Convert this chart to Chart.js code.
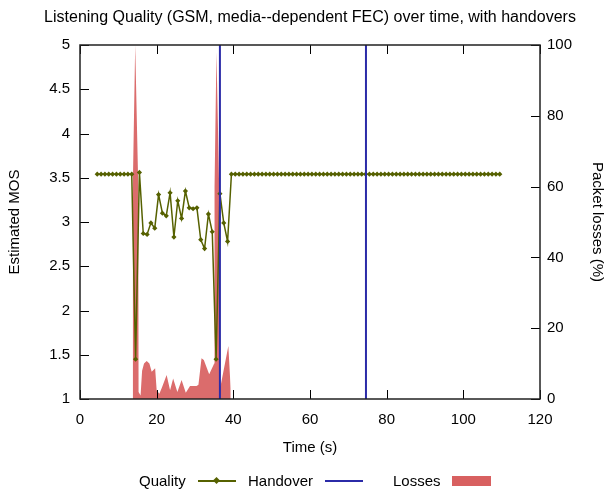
<!DOCTYPE html>
<html>
<head>
<meta charset="utf-8">
<script src="https://cdn.jsdelivr.net/npm/chart.js@4.4.1/dist/chart.umd.min.js"></script>
<style>
  body { margin: 0; background: #fff; }
  #wrap { position: relative; width: 606px; height: 489px; font-family: "Liberation Sans", Arial, sans-serif; }
  #legend { position: absolute; left: 0; top: 472px; width: 606px; height: 18px; font-size: 15px; color: #000; }
  #legend .t { position: absolute; top: 0; line-height: 18px; white-space: nowrap; }
  #legend .s { position: absolute; }
</style>
</head>
<body>
<div id="wrap">
  <canvas id="chart" width="606" height="489"></canvas>
  <div id="legend">
    <span class="t" style="left:139px">Quality</span>
    <span class="s" style="left:198px;top:8px;width:38px;height:2px;background:#566100"></span>
    <span class="s" style="left:214px;top:6px;width:5px;height:5px;background:#566100;transform:rotate(45deg)"></span>
    <span class="t" style="left:248px">Handover</span>
    <span class="s" style="left:325px;top:8px;width:38px;height:2px;background:#2b2ba8"></span>
    <span class="t" style="left:393px">Losses</span>
    <span class="s" style="left:452px;top:4px;width:39px;height:10px;background:#d86060"></span>
  </div>
</div>
<script>
// データ ---------------
const qualityTime = [
  4.5, 5.5, 6.5, 7.5, 8.5, 9.5, 10.5, 11.5, 12.5, 13.5,
  14.5, 15.5, 16.5, 17.5, 18.5, 19.5, 20.5, 21.5, 22.5, 23.5,
  24.5, 25.5, 26.5, 27.5, 28.5, 29.5, 30.5, 31.5, 32.5, 33.5,
  34.5, 35.5, 36.5, 37.5, 38.5, 39.5, 40.5, 41.5, 42.5, 43.5,
  44.5, 45.5, 46.5, 47.5, 48.5, 49.5, 50.5, 51.5, 52.5, 53.5,
  54.5, 55.5, 56.5, 57.5, 58.5, 59.5, 60.5, 61.5, 62.5, 63.5,
  64.5, 65.5, 66.5, 67.5, 68.5, 69.5, 70.5, 71.5, 72.5, 73.5,
  74.5, 75.5, 76.5, 77.5, 78.5, 79.5, 80.5, 81.5, 82.5, 83.5,
  84.5, 85.5, 86.5, 87.5, 88.5, 89.5, 90.5, 91.5, 92.5, 93.5,
  94.5, 95.5, 96.5, 97.5, 98.5, 99.5, 100.5, 101.5, 102.5, 103.5,
  104.5, 105.5, 106.5, 107.5, 108.5, 109.5
];
const qualityMOS = [
  3.54, 3.54, 3.54, 3.54, 3.54, 3.54, 3.54, 3.54, 3.54, 3.54,
  1.45, 3.56, 2.87, 2.86, 2.99, 2.93, 3.31, 3.10, 3.07, 3.33,
  2.83, 3.24, 3.04, 3.35, 3.16, 3.15, 3.16, 2.80, 2.70, 3.09,
  2.89, 1.45, 3.32, 2.99, 2.78, 3.54, 3.54, 3.54, 3.54, 3.54,
  3.54, 3.54, 3.54, 3.54, 3.54, 3.54, 3.54, 3.54, 3.54, 3.54,
  3.54, 3.54, 3.54, 3.54, 3.54, 3.54, 3.54, 3.54, 3.54, 3.54,
  3.54, 3.54, 3.54, 3.54, 3.54, 3.54, 3.54, 3.54, 3.54, 3.54,
  3.54, 3.54, 3.54, 3.54, 3.54, 3.54, 3.54, 3.54, 3.54, 3.54,
  3.54, 3.54, 3.54, 3.54, 3.54, 3.54, 3.54, 3.54, 3.54, 3.54,
  3.54, 3.54, 3.54, 3.54, 3.54, 3.54, 3.54, 3.54, 3.54, 3.54,
  3.54, 3.54, 3.54, 3.54, 3.54, 3.54
];
const handoverTime = [36.5, 74.6];
const lossTime = [
  13.72, 13.78, 14.4, 14.6, 15.2, 15.28, 15.8, 16.2, 16.7, 17.4,
  18.1, 18.7, 19.6, 20.0, 20.7, 21.4, 22.6, 23.5, 24.3, 25.4,
  26.5, 27.6, 28.7, 30.4, 30.9, 31.7, 32.3, 33.7, 34.8, 35.0,
  35.1, 35.6, 36.3, 36.4, 36.8, 38.7, 39.3, 39.32
];
const lossPct = [
  0, 60, 100, 100, 60, 2, 1, 8, 10, 10.7,
  10, 7.7, 8.7, 2.5, 1.5, 3.3, 6.8, 2.5, 5.8, 2,
  5.4, 1.8, 3.7, 3.7, 4, 11.5, 11, 7, 9.5, 10,
  60, 98, 60, 3, 4.4, 15, 3, 0
];
const timeTicks = [0, 20, 40, 60, 80, 100, 120];
const mosTicks = [1, 1.5, 2, 2.5, 3, 3.5, 4, 4.5, 5];
const lossTicks = [0, 20, 40, 60, 80, 100];

const FONT = "'Liberation Sans', Arial, sans-serif";
const mosRange = [mosTicks[0], mosTicks[mosTicks.length - 1]];

// 内向きの目盛りと枠線
const framePlugin = {
  id: 'frame',
  afterDatasetsDraw(chart) {
    const { ctx, chartArea: a, scales } = chart;
    const len = 9;
    ctx.save();
    ctx.strokeStyle = '#000';
    ctx.lineWidth = 1;
    ctx.beginPath();
    scales.x.ticks.forEach(t => {
      const px = Math.round(scales.x.getPixelForValue(t.value)) + 0.5;
      ctx.moveTo(px, a.bottom); ctx.lineTo(px, a.bottom - len);
      ctx.moveTo(px, a.top); ctx.lineTo(px, a.top + len);
    });
    scales.y.ticks.forEach(t => {
      const py = Math.round(scales.y.getPixelForValue(t.value)) + 0.5;
      ctx.moveTo(a.left, py); ctx.lineTo(a.left + len, py);
    });
    scales.y2.ticks.forEach(t => {
      const py = Math.round(scales.y2.getPixelForValue(t.value)) + 0.5;
      ctx.moveTo(a.right, py); ctx.lineTo(a.right - len, py);
    });
    ctx.stroke();
    ctx.lineWidth = 1.5;
    ctx.strokeStyle = '#222';
    ctx.strokeRect(a.left, a.top, a.right - a.left, a.bottom - a.top);
    ctx.restore();
  }
};

const handoverSets = handoverTime.map(t => ({
  label: 'Handover',
  data: [{ x: t, y: mosRange[0] }, { x: t, y: mosRange[1] }],
  borderColor: '#2b2ba8',
  borderWidth: 2,
  pointRadius: 0,
  yAxisID: 'y'
}));

const plainNum = v => String(v);

new Chart(document.getElementById('chart'), {
  type: 'line',
  data: {
    datasets: [
      ...handoverSets,
      {
        label: 'Quality',
        data: qualityTime.map((t, i) => ({ x: t, y: qualityMOS[i] })),
        borderColor: '#566100',
        backgroundColor: '#566100',
        borderWidth: 1.5,
        pointStyle: 'rectRot',
        pointRadius: 2.6,
        pointBorderWidth: 0,
        yAxisID: 'y'
      },
      {
        label: 'Losses',
        data: lossTime.map((t, i) => ({ x: t, y: lossPct[i] })),
        borderColor: '#db6c6c',
        backgroundColor: '#db6c6c',
        borderWidth: 0,
        pointRadius: 0,
        fill: 'origin',
        yAxisID: 'y2'
      }
    ]
  },
  options: {
    responsive: false,
    animation: false,
    devicePixelRatio: 1,
    // 左に寄せてタイトルをプロット領域の中央に
    layout: { padding: { left: 14, right: 0, top: 0, bottom: 0 } },
    elements: { line: { tension: 0 } },
    plugins: {
      legend: { display: false },
      tooltip: { enabled: false },
      title: {
        display: true,
        text: 'Listening Quality (GSM, media--dependent FEC) over time, with handovers',
        color: '#000',
        font: { family: FONT, size: 16, weight: 'normal', lineHeight: 1.2 },
        padding: { top: 7.5, bottom: 18.3 }
      }
    },
    scales: {
      x: {
        type: 'linear',
        min: timeTicks[0],
        max: timeTicks[timeTicks.length - 1],
        afterBuildTicks: s => { s.ticks = timeTicks.map(v => ({ value: v })); },
        afterFit: s => { s.height = 90; },
        grid: { display: false, drawTicks: false },
        border: { display: false },
        ticks: { color: '#000', padding: 12, maxRotation: 0, font: { family: FONT, size: 15 }, callback: plainNum },
        title: {
          display: true, text: 'Time (s)', color: '#000',
          font: { family: FONT, size: 15, lineHeight: 1.2 },
          padding: { top: 0, bottom: 32 }
        }
      },
      y: {
        position: 'left',
        min: mosRange[0],
        max: mosRange[1],
        afterBuildTicks: s => { s.ticks = mosTicks.map(v => ({ value: v })); },
        afterFit: s => { s.width = 66; },
        grid: { display: false, drawTicks: false },
        border: { display: false },
        ticks: { color: '#000', padding: 10, font: { family: FONT, size: 15 }, callback: plainNum },
        title: {
          display: true, text: 'Estimated MOS', color: '#000',
          font: { family: FONT, size: 15, lineHeight: 1.2 },
          padding: { top: -8, bottom: 0 }
        }
      },
      y2: {
        position: 'right',
        min: lossTicks[0],
        max: lossTicks[lossTicks.length - 1],
        afterBuildTicks: s => { s.ticks = lossTicks.map(v => ({ value: v })); },
        afterFit: s => { s.width = 66; },
        grid: { display: false, drawTicks: false },
        border: { display: false },
        ticks: { color: '#000', padding: 7, font: { family: FONT, size: 15 }, callback: plainNum },
        title: {
          display: true, text: 'Packet losses (%)', color: '#000',
          font: { family: FONT, size: 15, lineHeight: 1.2 },
          padding: { top: 0, bottom: 0 }
        }
      }
    }
  },
  plugins: [framePlugin]
});
</script>
</body>
</html>
